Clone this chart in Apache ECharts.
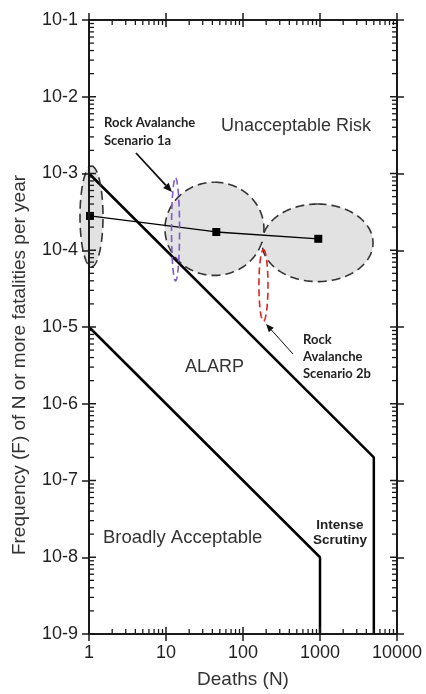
<!DOCTYPE html>
<html><head><meta charset="utf-8">
<script src="https://cdn.jsdelivr.net/npm/echarts@6/dist/echarts.min.js"></script>
<style>html,body{margin:0;padding:0;background:#fff}#c{width:426px;height:694px}</style>
</head><body><div id="c"></div>
<script>
// ---- data ----
const xTickLabels = ['1','10','100','1000','10000'];
const yTickLabels = ['10-9','10-8','10-7','10-6','10-5','10-4','10-3','10-2','10-1'];
const xDecades = [1, 10, 100, 1000, 10000];
const yDecades = [1e-9, 1e-8, 1e-7, 1e-6, 1e-5, 1e-4, 1e-3, 1e-2, 1e-1];
const minorMultipliers = [2, 3, 4, 5, 6, 7, 8, 9];
const upperCriterion = [[1,1e-3],[5000,2e-7],[5000,1e-9]];
const lowerCriterion = [[1,1e-5],[1000,1e-8],[1000,1e-9]];
const deaths = [1.03, 45, 950];
const frequency = [2.8e-4, 1.73e-4, 1.41e-4];
// uncertainty envelopes: [N low, N high, F low, F high]
const grayEnvelopes = [[0.764,1.52,6.1e-5,1.25e-3],[9.7,187,4.7e-5,7.7e-4],[177,4880,3.9e-5,4.0e-4]];
const scenario1a = [[11.8,15.0,4.0e-5,8.7e-4]];
const scenario2b = [[161,211,1.19e-5,1.02e-4]];

const FONT = '"Liberation Sans", Arial, sans-serif';
const AX = '#1a1a1a';

function ell(api, e){
  const p1 = api.coord([e[0], e[2]]), p2 = api.coord([e[1], e[3]]);
  return {cx:(p1[0]+p2[0])/2, cy:(p1[1]+p2[1])/2, rx:Math.abs(p2[0]-p1[0])/2, ry:Math.abs(p2[1]-p1[1])/2};
}
function ellPts(e, N){
  const pts=[];
  for(let k=0;k<=N;k++){const t=-Math.PI/2+2*Math.PI*k/N; pts.push([e.cx+e.rx*Math.cos(t), e.cy+e.ry*Math.sin(t)]);}
  return pts;
}
function xFmt(v){return xTickLabels[Math.round(Math.log10(v))];}
function yFmt(v){return yTickLabels[Math.round(Math.log10(v))+9];}

function xAxisDef(pos){
  const main = pos==='bottom';
  return {
    type:'log', logBase:10, min:1, max:10000, splitNumber:4, position:pos, z:10,
    axisLine:{show:true, onZero:false, lineStyle:{color:AX, width:2}},
    axisTick:{show:true, inside:false, length:7, lineStyle:{color:AX, width:1.5}},
    splitLine:{show:false},
    axisLabel:{show:main, fontSize:18, fontFamily:FONT, color:'#222', margin:10, formatter:xFmt},
    name:main?'Deaths (N)':'', nameLocation:'middle', nameGap:36,
    nameTextStyle:{fontSize:19, fontFamily:FONT, color:'#333'}
  };
}
function yAxisDef(pos){
  const main = pos==='left';
  return {
    type:'log', logBase:10, min:1e-9, max:1e-1, splitNumber:8, position:pos, z:10,
    axisLine:{show:true, onZero:false, lineStyle:{color:AX, width:2}},
    axisTick:{show:true, inside:false, length:7, lineStyle:{color:AX, width:1.5}},
    splitLine:{show:false},
    axisLabel:{show:main, fontSize:18, fontFamily:FONT, color:'#222', margin:11, formatter:yFmt}
  };
}

function arrow(x1,y1,x2,y2,w,head){
  const a=Math.atan2(y2-y1,x2-x1), hw=head*0.42;
  const bx=x2-head*Math.cos(a), by=y2-head*Math.sin(a);
  return [
    {type:'line', shape:{x1:x1,y1:y1,x2:bx,y2:by}, style:{stroke:'#111', lineWidth:w}},
    {type:'polygon', shape:{points:[[x2,y2],[bx+hw*Math.sin(a),by-hw*Math.cos(a)],[bx-hw*Math.sin(a),by+hw*Math.cos(a)]]}, style:{fill:'#111'}}
  ];
}

// inside major + log-minor ticks on all four sides, positioned through the chart's axes
function tickSegments(toPx){
  const segs=[];
  const c0=toPx([xDecades[0], yDecades[0]]), c1=toPx([xDecades[xDecades.length-1], yDecades[yDecades.length-1]]);
  const x0=c0[0], yb=c0[1], x1=c1[0], yt=c1[1];
  xDecades.forEach((d,i)=>{
    const px=toPx([d, yDecades[0]])[0];
    segs.push([px,yb,px,yb-7,1.5],[px,yt,px,yt+7,1.5]);
    if(i<xDecades.length-1) minorMultipliers.forEach(m=>{
      const q=toPx([d*m, yDecades[0]])[0];
      segs.push([q,yb,q,yb-5,1.3],[q,yt,q,yt+5,1.3]);
    });
  });
  yDecades.forEach((d,i)=>{
    const py=toPx([xDecades[0], d])[1];
    segs.push([x0,py,x0+7,py,1.5],[x1,py,x1-7,py,1.5]);
    if(i<yDecades.length-1) minorMultipliers.forEach(m=>{
      const q=toPx([xDecades[0], d*m])[1];
      segs.push([x0,q,x0+5,q,1.3],[x1,q,x1-5,q,1.3]);
    });
  });
  return segs;
}

const chart = echarts.init(document.getElementById('c'), null, {renderer:'canvas'});
chart.setOption({
  animation:false,
  backgroundColor:'#fff',
  grid:{left:89, right:29, top:20, bottom:56},
  xAxis:[xAxisDef('bottom'), xAxisDef('top')],
  yAxis:[yAxisDef('left'), yAxisDef('right')],
  series:[
    {type:'custom', name:'envelopeFill', z:1, clip:false, data:grayEnvelopes.map(e=>[e[0],e[2]]),
     renderItem:(params, api)=>{
       const e=ell(api, grayEnvelopes[params.dataIndex]);
       return {type:'polygon', shape:{points:ellPts(e,120)}, style:{fill:'#e2e2e2', stroke:'none'}};
     }},
    {type:'line', name:'upper', z:3, data:upperCriterion, symbol:'none', lineStyle:{color:'#000', width:2.5}, clip:false},
    {type:'line', name:'lower', z:3, data:lowerCriterion, symbol:'none', lineStyle:{color:'#000', width:2.5}, clip:false},
    {type:'custom', name:'envelopeEdge', z:4, clip:false, data:grayEnvelopes.map(e=>[e[0],e[2]]),
     renderItem:(params, api)=>{
       const all=grayEnvelopes.map(g=>ell(api,g));
       const me=all[params.dataIndex];
       const pts=ellPts(me,240), runs=[]; let cur=[];
       pts.forEach(p=>{
         const inside=all.some((o,j)=>j!==params.dataIndex && ((p[0]-o.cx)/o.rx)**2+((p[1]-o.cy)/o.ry)**2<1);
         if(inside){ if(cur.length>1) runs.push(cur); cur=[]; } else cur.push(p);
       });
       if(cur.length>1) runs.push(cur);
       return {type:'group', children:runs.map(r=>({type:'polyline', shape:{points:r}, style:{stroke:'#333', fill:'none', lineWidth:1.6, lineDash:[9,5]}}))};
     }},
    {type:'line', name:'estimate', z:5, data:deaths.map((d,i)=>[d,frequency[i]]), symbol:'rect', symbolSize:8,
     itemStyle:{color:'#000'}, lineStyle:{color:'#000', width:1.3}, clip:false},
    {type:'custom', name:'Scenario 1a', z:6, clip:false, data:scenario1a.map(e=>[e[0],e[2]]),
     renderItem:(params, api)=>{
       const e=ell(api, scenario1a[params.dataIndex]);
       return {type:'polygon', shape:{points:ellPts(e,120)}, style:{fill:'none', stroke:'#8458cc', lineWidth:1.6, lineDash:[7,4]}};
     }},
    {type:'custom', name:'Scenario 2b', z:6, clip:false, data:scenario2b.map(e=>[e[0],e[2]]),
     renderItem:(params, api)=>{
       const e=ell(api, scenario2b[params.dataIndex]);
       return {type:'polygon', shape:{points:ellPts(e,120)}, style:{fill:'none', stroke:'#e02424', lineWidth:1.6, lineDash:[7,4]}};
     }}
  ]
});
const toPx = v => chart.convertToPixel({gridIndex:0}, v);
const tickEls = tickSegments(toPx).map((s,i)=>({id:'tick'+i, type:'line', z:30, silent:true,
  shape:{x1:s[0],y1:s[1],x2:s[2],y2:s[3]}, style:{stroke:AX, lineWidth:s[4]}}));
chart.setOption({graphic: tickEls.concat([
    {id:'ytitle', type:'text', x:20, y:365, rotation:Math.PI/2, z:20,
     style:{text:'Frequency (F) of N or more fatalities per year', font:'19px '+FONT, fill:'#333', textAlign:'center', textVerticalAlign:'middle'}},
    {id:'t1', type:'text', x:296, y:126, z:20, style:{text:'Unacceptable Risk', font:'18px '+FONT, fill:'#333', textAlign:'center', textVerticalAlign:'middle'}},
    {id:'t2', type:'text', x:185, y:367, z:20, style:{text:'ALARP', font:'18px '+FONT, fill:'#333', textAlign:'left', textVerticalAlign:'middle'}},
    {id:'t3', type:'text', x:103, y:538, z:20, style:{text:'Broadly Acceptable', font:'18.5px '+FONT, fill:'#333', textAlign:'left', textVerticalAlign:'middle'}},
    {id:'t4', type:'text', x:340, y:532.5, z:20, style:{text:'Intense\nScrutiny', font:'bold 13.5px '+FONT, lineHeight:15, fill:'#222', textAlign:'center', textVerticalAlign:'middle'}},
    {id:'t5', type:'text', x:104, y:131.75, z:20, style:{text:'Rock Avalanche\nScenario 1a', font:'bold 13px Lato, sans-serif', lineHeight:17.5, fill:'#222', textAlign:'left', textVerticalAlign:'middle'}},
    {id:'t6', type:'text', x:303, y:357, z:20, style:{text:'Rock\nAvalanche\nScenario 2b', font:'bold 13px Lato, sans-serif', lineHeight:17, fill:'#222', textAlign:'left', textVerticalAlign:'middle'}}
  ], arrow(136,153,172,192,1.8,9), arrow(293,354,266,324,1,8))});
</script>
</body></html>
